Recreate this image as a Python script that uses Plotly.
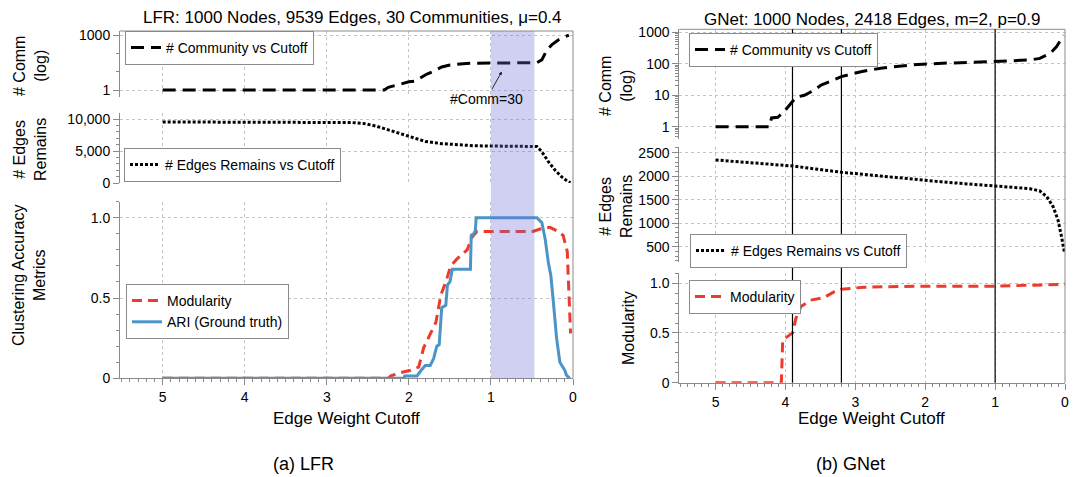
import plotly.graph_objects as go

W, H = 1083, 477
OFF = 8                      # page body margin of the browser
FW, FH = W - OFF, H - OFF    # figure fills the rest of the window

# ---------------- data ----------------
# (a) LFR
lfr_comm_x = [5.0, 2.3, 2.25, 2.2, 2.1, 2.0, 1.92, 1.85, 1.78, 1.7, 1.6, 1.5, 1.4, 1.3, 1.2, 1.0, 0.75, 0.5, 0.44, 0.38, 0.32, 0.26, 0.18, 0.1, 0.05]
lfr_comm_y = [1, 1, 1.4, 1.6, 2.2, 2.8, 3.1, 5, 7.5, 10.5, 18, 23, 26, 28, 29, 30, 30, 30, 31, 44, 150, 290, 540, 800, 1000]

lfr_edges_x = [5.0, 2.9, 2.7, 2.55, 2.4, 2.2, 2.0, 1.8, 1.6, 1.4, 1.2, 1.0, 0.75, 0.5, 0.44, 0.38, 0.3, 0.22, 0.14, 0.06, 0.03]
lfr_edges_y = [9539, 9520, 9450, 9300, 8900, 8100, 7300, 6500, 6150, 5950, 5820, 5780, 5780, 5770, 5700, 4900, 3330, 2030, 980, 200, 50]

lfr_mod_x = [5.0, 2.25, 2.22, 2.1, 1.98, 1.88, 1.82, 1.74, 1.67, 1.61, 1.55, 1.49, 1.41, 1.29, 1.23, 1.17, 1.0, 0.7, 0.49, 0.4, 0.28, 0.2, 0.12, 0.07, 0.05, 0.03]
lfr_mod_y = [0, 0, 0.015, 0.035, 0.05, 0.07, 0.19, 0.27, 0.35, 0.52, 0.60, 0.70, 0.745, 0.80, 0.88, 0.915, 0.915, 0.915, 0.915, 0.93, 0.94, 0.92, 0.89, 0.79, 0.52, 0.28]

lfr_ari_x = [5.0, 2.06, 2.05, 1.9, 1.85, 1.8, 1.74, 1.7, 1.66, 1.63, 1.6, 1.55, 1.53, 1.5, 1.47, 1.25, 1.24, 1.21, 1.19, 1.18, 0.5, 0.44, 0.38, 0.34, 0.3, 0.27, 0.24, 0.2, 0.16, 0.12, 0.1, 0.08, 0.04]
lfr_ari_y = [0, 0, 0.015, 0.015, 0.05, 0.08, 0.08, 0.12, 0.2, 0.21, 0.44, 0.455, 0.58, 0.6, 0.68, 0.68, 0.89, 0.9, 0.92, 1.0, 1.0, 1.0, 0.97, 0.87, 0.72, 0.64, 0.48, 0.25, 0.10, 0.07, 0.05, 0.02, 0]

# (b) GNet
gnet_comm_x = [5.0, 4.23, 4.2, 4.11, 4.02, 3.9, 3.85, 3.73, 3.59, 3.49, 3.38, 3.2, 2.92, 2.64, 2.17, 1.69, 1.03, 0.5, 0.36, 0.21, 0.12, 0.05, 0.02]
gnet_comm_y = [1, 1, 1.9, 2, 3, 6, 8.6, 10, 14.5, 21, 27, 39, 56, 72, 93, 105, 117, 132, 148, 215, 350, 630, 800]

gnet_edges_x = [5.0, 3.9, 3.2, 2.64, 2.16, 1.69, 1.0, 0.5, 0.36, 0.26, 0.17, 0.1, 0.05, 0.01]
gnet_edges_y = [2345, 2217, 2083, 2004, 1940, 1870, 1791, 1734, 1685, 1564, 1351, 1068, 713, 394]

gnet_mod_x = [5.0, 4.06, 4.04, 3.95, 3.9, 3.85, 3.78, 3.64, 3.45, 3.3, 3.2, 2.88, 2.16, 1.0, 0.5, 0.0]
gnet_mod_y = [0, 0, 0.43, 0.47, 0.5, 0.65, 0.765, 0.83, 0.855, 0.915, 0.94, 0.96, 0.97, 0.97, 0.98, 0.99]

x_ticks = [0, 1, 2, 3, 4, 5]
gnet_marks = [3.9, 3.2, 1.0]
lfr_band = [1.0, 0.47]

# ---------------- helpers (page pixel -> paper fraction) ----------------
def PX(p):
    return (p - OFF) / FW

def PY(p):
    return 1 - (p - OFF) / FH

FONT = "Liberation Sans, Arial, Helvetica, sans-serif"
GRAY = "#8a8a8a"
GRID = "#c4c4c4"
BLACK = "black"
RED = "#ec3a2c"
BLUE = "#4a94c8"

fig = go.Figure()

def add(x, y, xa, ya, name, leg, color, width, dash):
    fig.add_trace(go.Scatter(x=x, y=y, xaxis=xa, yaxis=ya, name=name, legend=leg,
                             mode="lines", line=dict(color=color, width=width, dash=dash)))

add(lfr_comm_x, lfr_comm_y, "x", "y", "# Community vs Cutoff", "legend", BLACK, 3, "13px,7px")
add(lfr_edges_x, lfr_edges_y, "x", "y2", "# Edges Remains vs Cutoff", "legend2", BLACK, 3, "3px,2px")
add(lfr_mod_x, lfr_mod_y, "x", "y3", "Modularity", "legend3", RED, 3, "10px,6px")
add(lfr_ari_x, lfr_ari_y, "x", "y3", "ARI (Ground truth)", "legend3", BLUE, 3, "solid")

add(gnet_comm_x, gnet_comm_y, "x2", "y4", "# Community vs Cutoff", "legend4", BLACK, 3, "13px,7px")
add(gnet_edges_x, gnet_edges_y, "x2", "y5", "# Edges Remains vs Cutoff", "legend5", BLACK, 3, "3px,2px")
add(gnet_mod_x, gnet_mod_y, "x2", "y6", "Modularity", "legend6", RED, 3, "10px,6px")

# geometry (page pixels)
L_X0, L_X1 = 120, 573
R_X0, R_X1 = 679.3, 1065
L_TOP = (31, 97)
L_MID = (113, 183)
L_BOT = (201.7, 378.3)
R_TOP = (29.3, 139)
R_MID = (147, 261.7)
R_BOT = (273.3, 382.7)

def ydom(a):
    return [PY(a[1]), PY(a[0])]

tickfont = dict(family=FONT, size=14, color="black")

def xaxis(dom, anchor):
    return dict(domain=[PX(dom[0]), PX(dom[1])], anchor=anchor, range=[5.52, 0],
                tickvals=x_ticks, ticktext=[str(v) for v in x_ticks],
                ticks="outside", ticklen=6, tickcolor=GRAY, tickwidth=1,
                showline=True, linecolor=GRAY, linewidth=1, automargin=False,
                showgrid=True, gridcolor=GRID, griddash="dot", gridwidth=1,
                zeroline=False, tickfont=tickfont,
                minor=dict(dtick=0.1, tick0=0, ticks="outside", ticklen=3, tickcolor=GRAY, showgrid=False))

def yaxis(dom, anchor, rng, tv, tt, minor, log=False):
    d = dict(domain=ydom(dom), anchor=anchor, range=rng, tickvals=tv, ticktext=tt,
             ticks="outside", ticklen=6, tickcolor=GRAY, tickwidth=1,
             showline=True, linecolor=GRAY, linewidth=1, automargin=False,
             showgrid=True, gridcolor=GRID, griddash="dot", gridwidth=1,
             zeroline=False, tickfont=tickfont,
             minor=dict(ticks="outside", ticklen=3, tickcolor=GRAY, showgrid=False, **minor))
    if log:
        d["type"] = "log"
    return d

log_minor_r = [m * 10 ** k for k in range(0, 3) for m in range(2, 10)] + [0.5, 0.6, 0.7, 0.8, 0.9]

fig.update_layout(
    width=FW, height=FH, margin=dict(l=0, r=0, t=0, b=0, pad=0, autoexpand=False),
    paper_bgcolor="white", plot_bgcolor="white",
    font=dict(family=FONT, size=14, color="black"),
    showlegend=True,
    xaxis=xaxis((L_X0, L_X1), "y3"),
    xaxis2=xaxis((R_X0, R_X1), "y6"),
    yaxis=yaxis(L_TOP, "x", [-0.38, 3.22], [1, 1000], ["1", "1000"], dict(tickvals=[10, 100]), log=True),
    yaxis2=yaxis(L_MID, "x", [0, 10940], [0, 5000, 10000], ["0", "5,000", "10,000"], dict(dtick=1000, tick0=0)),
    yaxis3=yaxis(L_BOT, "x", [0, 1.1], [0, 0.5, 1.0], ["0", "0.5", "1.0"], dict(dtick=0.1, tick0=0)),
    yaxis4=yaxis(R_TOP, "x2", [-0.39, 3.095], [1, 10, 100, 1000], ["1", "10", "100", "1000"], dict(tickvals=log_minor_r), log=True),
    yaxis5=yaxis(R_MID, "x2", [181, 2621], [500, 1000, 1500, 2000, 2500], ["500", "1000", "1500", "2000", "2500"], dict(dtick=100, tick0=0)),
    yaxis6=yaxis(R_BOT, "x2", [0, 1.1], [0, 0.5, 1.0], ["0", "0.5", "1.0"], dict(dtick=0.1, tick0=0)),
)

def legend(x, y):
    return dict(x=PX(x), y=PY(y), xanchor="left", yanchor="top", bgcolor="white",
                bordercolor=GRAY, borderwidth=1, font=dict(family=FONT, size=14, color="black"),
                itemwidth=30, tracegroupgap=0)

fig.update_layout(
    legend=legend(125, 31),
    legend2=legend(124, 148),
    legend3=legend(126, 284),
    legend4=legend(689, 33),
    legend5=legend(690, 234),
    legend6=legend(689, 280),
)

# frames (top + right border of each chart)
shapes = []
for (x0, x1, yt, yb) in [(L_X0, L_X1, L_TOP[0], L_BOT[1]), (R_X0, R_X1, R_TOP[0], R_BOT[1])]:
    shapes.append(dict(type="line", xref="paper", yref="paper", x0=PX(x0), x1=PX(x1), y0=PY(yt), y1=PY(yt),
                       line=dict(color=GRAY, width=1)))
    shapes.append(dict(type="line", xref="paper", yref="paper", x0=PX(x1), x1=PX(x1), y0=PY(yt), y1=PY(yb),
                       line=dict(color=GRAY, width=1)))

# shaded band in LFR chart
shapes.append(dict(type="rect", xref="x", yref="paper", x0=lfr_band[0], x1=lfr_band[1],
                   y0=PY(L_BOT[1]), y1=PY(L_TOP[0]), fillcolor="rgb(105,110,215)", opacity=0.32,
                   line=dict(width=0), layer="above"))

# vertical marker lines in GNet chart
for v in gnet_marks:
    shapes.append(dict(type="line", xref="x2", yref="paper", x0=v, x1=v, y0=PY(R_BOT[1]), y1=PY(R_TOP[0]),
                       line=dict(color="black", width=1.2), layer="above"))
fig.update_layout(shapes=shapes)

ann = []
def text(x, y, s, size=15, angle=0):
    ann.append(dict(x=PX(x), y=PY(y), xref="paper", yref="paper", text=s, showarrow=False,
                    font=dict(family=FONT, size=size, color="black"), textangle=angle,
                    xanchor="center", yanchor="middle"))

text(352, 18, "LFR: 1000 Nodes, 9539 Edges, 30 Communities, μ=0.4", 17)
text(872, 19, "GNet: 1000 Nodes, 2418 Edges, m=2, p=0.9", 17)
text(346, 418, "Edge Weight Cutoff", 17)
text(871, 418, "Edge Weight Cutoff", 17)
text(303, 464, "(a) LFR", 18)
text(850, 464, "(b) GNet", 18)
text(30, 66, "# Comm<br>(log)", 16, -90)
text(30, 149, "# Edges<br>Remains", 16, -90)
text(29, 276, "Clustering Accuracy<br>Metrics", 16, -90)
text(616, 86, "# Comm<br>(log)", 16, -90)
text(616, 207, "# Edges<br>Remains", 16, -90)
text(628, 328, "Modularity", 16, -90)

# annotation with arrow
ann.append(dict(x=PX(501.7), y=PY(71.7), xref="paper", yref="paper", text="#Comm=30",
                showarrow=True, arrowhead=2, arrowsize=0.8, arrowwidth=0.8, arrowcolor="black",
                ax=-15, ay=27, font=dict(family=FONT, size=14, color="black")))
fig.update_layout(annotations=ann)

fig.write_html("out.html")
